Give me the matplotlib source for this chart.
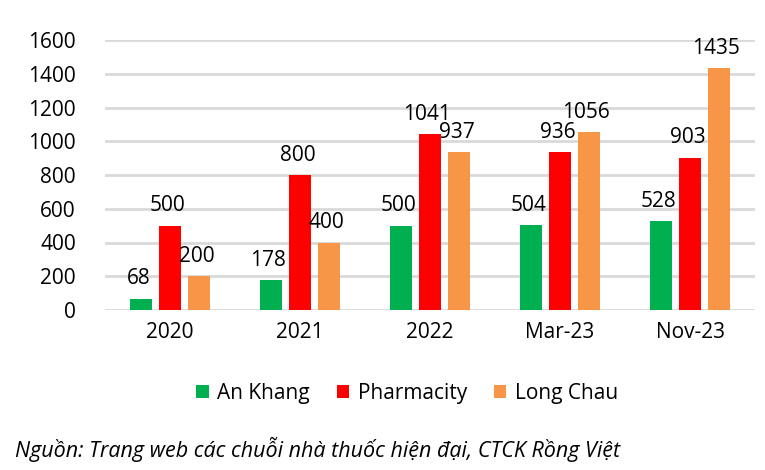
import matplotlib.pyplot as plt
import numpy as np

plt.rcParams['font.family'] = ['Open Sans', 'DejaVu Sans']

categories = ['2020', '2021', '2022', 'Mar-23', 'Nov-23']
an_khang = [68, 178, 500, 504, 528]
pharmacity = [500, 800, 1041, 936, 903]
long_chau = [200, 400, 937, 1056, 1435]

series = [('An Khang', an_khang, '#00B050'),
          ('Pharmacity', pharmacity, '#FF0000'),
          ('Long Chau', long_chau, '#F79646')]

fig = plt.figure(figsize=(7.65, 4.7), dpi=100)
ax = fig.add_axes([105 / 765, 1 - 310 / 470, 650 / 765, 270 / 470])

x = np.arange(len(categories))
step = 0.223
width = 0.17
for k, (name, vals, col) in enumerate(series):
    pos = x + (k - 1) * step
    ax.bar(pos, vals, width, color=col, label=name, zorder=3)
    for p, v in zip(pos, vals):
        ax.text(p - 0.02, v + 55, str(v), ha='center', va='bottom', fontsize=15, color='black')

ax.set_xlim(-0.5, len(categories) - 0.5)
ax.set_ylim(0, 1600)
ax.set_yticks(range(0, 1601, 200))
ax.set_xticks(x)
ax.set_xticklabels(categories)
ax.yaxis.grid(True, color='#D9D9D9', linewidth=2, zorder=0)
for s in ax.spines.values():
    s.set_visible(False)
ax.tick_params(axis='both', length=0, labelsize=15)
ax.tick_params(axis='y', pad=21)
ax.tick_params(axis='x', pad=9)

fig.legend(loc='center', bbox_to_anchor=(407 / 765, 1 - 393 / 470), ncol=3, frameon=False,
           fontsize=15, handlelength=0.6, handleheight=0.6, columnspacing=1.3, handletextpad=0.4)

fig.text(15 / 765, 1 - 449 / 470, 'Nguồn: Trang web các chuỗi nhà thuốc hiện đại, CTCK Rồng Việt',
         fontsize=15.5, style='italic', va='center', ha='left')

plt.savefig('out.png')
plt.close()
